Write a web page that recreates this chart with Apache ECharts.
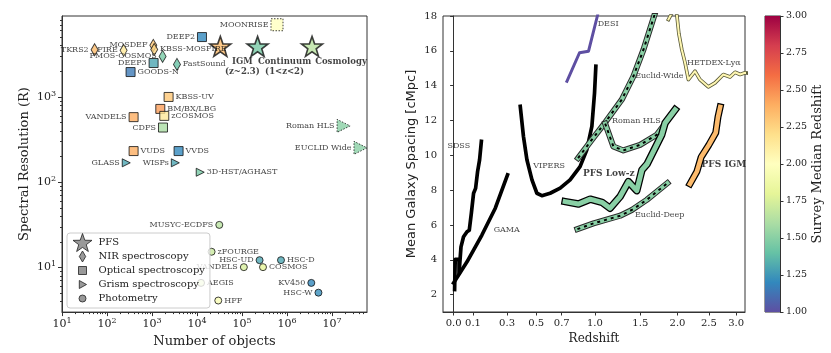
<!DOCTYPE html>
<html><head><meta charset="utf-8">
<script src="https://cdn.jsdelivr.net/npm/echarts@6/dist/echarts.min.js"></script>
<style>html,body{margin:0;padding:0;background:#fff}#c{width:831px;height:353px}</style>
</head><body><div id="c"></div>
<script>
// ---------------- Left panel: survey spectral resolution vs number of objects ----------------
const pfsNames = ['IGM', 'Continuum', 'Cosmology'];
const pfsLabels = ['IGM\n(z~2.3)', 'Continuum\n(1<z<2)', 'Cosmology'];
const pfsN = [33000, 222000, 3600000];
const pfsR = [3920, 3920, 3920];
const pfsZ = [2.35, 1.45, 1.65];

const nirNames = ['TKRS2', 'FIRE', 'MOSDEF', 'KBSS-MOSFIRE', 'FMOS-COSMOS', 'FastSound'];
const nirN = [53, 234, 1070, 1120, 1720, 3590];
const nirR = [3580, 3520, 4030, 3610, 2990, 2410];
const nirZ = [2.35, 2.15, 2.3, 2.25, 1.45, 1.4];

const optNames = ['GOODS-N', 'DEEP3', 'DEEP2', 'MOONRISE', 'KBSS-UV', 'BM/BX/LBG', 'zCOSMOS', 'VANDELS', 'CDFS', 'VUDS', 'VVDS'];
const optN = [334, 1086, 12900, 600000, 2340, 1530, 1875, 390, 1755, 390, 3900];
const optR = [1960, 2500, 5040, 7030, 1000, 724, 600, 580, 438, 232, 232];
const optZ = [1.15, 1.3, 1.2, 2.0, 2.3, 2.45, 2.15, 2.4, 1.6, 2.4, 1.2];

const grismNames = ['GLASS', 'WISPs', '3D-HST/AGHAST', 'Roman HLS', 'EUCLID Wide'];
const grismN = [268, 3300, 11800, 18100000, 43000000];
const grismR = [169, 169, 131, 458, 253];
const grismZ = [1.3, 1.3, 1.45, 1.5, 1.5];

const photNames = ['MUSYC-ECDFS', 'zFOURGE', 'HSC-UD', 'HSC-D', 'VANDELS', 'COSMOS', 'AEGIS', 'KV450', 'HSC-W', 'HFF'];
const photN = [31300, 21100, 246000, 736000, 110000, 293000, 12300, 3470000, 5000000, 29700];
const photR = [31.6, 15.3, 12.2, 12.2, 10.1, 10.1, 6.6, 6.6, 5.07, 4.1];
const photZ = [1.65, 1.7, 1.3, 1.3, 1.75, 1.8, 1.75, 1.2, 1.22, 1.95];

const legendNames = ['PFS', 'NIR spectroscopy', 'Optical spectroscopy', 'Grism spectroscopy', 'Photometry'];
const leftXTicks = [10, 100, 1000, 10000, 100000, 1000000, 10000000];
const leftYTicks = [10, 100, 1000];

// ---------------- Right panel: mean galaxy spacing vs redshift ----------------
const sdssZ = [0.005, 0.008, 0.027, 0.027, 0.037, 0.05, 0.068, 0.080, 0.091, 0.103, 0.114, 0.125, 0.136, 0.146];
const sdssD = [2.29, 4.02, 4.02, 3.21, 4.74, 5.32, 5.61, 5.70, 6.67, 7.82, 8.1, 9.07, 9.74, 10.8];
const gamaZ = [0.0, 0.068, 0.149, 0.227, 0.303];
const gamaD = [2.67, 3.88, 5.42, 6.96, 8.88];
const vipersZ = [0.387, 0.409, 0.433, 0.469, 0.505, 0.542, 0.606, 0.687, 0.771, 0.860, 0.923, 0.971, 0.997, 1.010];
const vipersD = [12.81, 11.08, 9.74, 8.59, 7.82, 7.68, 7.82, 8.11, 8.59, 9.35, 10.32, 11.66, 13.58, 15.12];
const desiZ = [0.744, 0.855, 0.939, 1.025, 1.07];
const desiD = [14.25, 15.89, 15.98, 18.0, 19.2];
const euclidWideZ = [0.842, 0.96, 1.087, 1.283, 1.417, 1.54, 1.68, 1.76];
const euclidWideD = [9.84, 10.81, 11.76, 13.2, 14.54, 16.08, 18.06, 19.2];
const romanZ = [1.104, 1.19, 1.30, 1.497, 1.71, 1.846];
const romanD = [11.82, 10.51, 10.28, 10.6, 11.18, 11.95];
const euclidDeepZ = [0.836, 0.987, 1.264, 1.398, 1.58, 1.855];
const euclidDeepD = [5.76, 6.09, 6.53, 6.86, 7.44, 8.4];
const pfsLowZ = [0.729, 0.846, 0.955, 1.071, 1.155, 1.264, 1.358, 1.457, 1.52, 1.585, 1.777, 1.823, 1.965];
const pfsLowD = [7.34, 7.2, 7.48, 7.3, 6.96, 7.63, 8.49, 7.97, 9.16, 9.5, 11.18, 11.86, 12.62];
const pfsIgmZ = [2.19, 2.3, 2.37, 2.5, 2.62, 2.66, 2.70];
const pfsIgmD = [8.36, 9.07, 9.9, 10.6, 11.3, 12.2, 12.78];
const hetdexZ = [1.87, 1.95, 1.99, 2.02, 2.064, 2.114, 2.165, 2.27, 2.35, 2.49, 2.607, 2.757, 2.883, 2.98, 3.08, 3.18, 3.3];
const hetdexD = [17.8, 18.4, 18.1, 17.0, 16.08, 15.31, 14.35, 14.83, 14.35, 13.93, 14.16, 14.64, 14.5, 14.77, 14.64, 14.74, 14.7];

const annNames = ['SDSS', 'VIPERS', 'GAMA', 'DESI', 'Euclid-Wide', 'HETDEX-Lyα', 'Roman HLS', 'PFS Low-z', 'PFS IGM', 'Euclid-Deep'];
const annZ = [0.026, 0.598, 0.298, 1.135, 1.745, 2.586, 1.451, 1.142, 2.768, 1.75];
const annD = [10.56, 9.41, 5.71, 17.52, 14.54, 15.31, 11.95, 8.93, 9.45, 6.57];

const rightXTicks = [0.0, 0.1, 0.3, 0.5, 0.7, 1.0, 1.5, 2.0, 2.5, 3.0];
const rightYTicks = [2, 4, 6, 8, 10, 12, 14, 16, 18];
const cbarMin = 1, cbarMax = 3, cbarStep = 0.25;

// ---------------- styling helpers ----------------
const SERIF = 'DejaVu Serif';
const spectral = ['#5e4fa2', '#3288bd', '#66c2a5', '#abdda4', '#e6f598', '#ffffbf', '#fee08b', '#fdae61', '#f46d43', '#d53e4f', '#9e0142'];
function hex2rgb(h) { return [1, 3, 5].map(i => parseInt(h.substr(i, 2), 16)); }
function cmap(z) {
  let t = Math.min(1, Math.max(0, (z - cbarMin) / (cbarMax - cbarMin))) * 10;
  let i = Math.min(9, Math.floor(t)), f = t - i;
  const a = hex2rgb(spectral[i]), b = hex2rgb(spectral[i + 1]);
  const c = a.map((v, k) => Math.round(v + (b[k] - v) * f));
  return 'rgb(' + c.join(',') + ')';
}
const labelLeft = new Set(['TKRS2', 'FIRE', 'MOSDEF', 'FMOS-COSMOS', 'DEEP3', 'DEEP2', 'MOONRISE', 'VANDELS', 'CDFS',
  'GLASS', 'WISPs', 'Roman HLS', 'EUCLID Wide', 'MUSYC-ECDFS', 'HSC-UD', 'KV450', 'HSC-W']);
const planned = new Set(['MOONRISE', 'Roman HLS', 'EUCLID Wide']);
const boldAnn = new Set(['PFS Low-z', 'PFS IGM']);
const pfsLabelDx = [22, 27, 29];

function pts(names, N, R, Z, baseSize, bigSize) {
  return names.map((n, i) => ({
    name: n, value: [N[i], R[i]],
    symbolSize: planned.has(n) ? bigSize : baseSize,
    itemStyle: { color: cmap(Z[i]), borderType: planned.has(n) ? [1.5, 1.5] : 'solid' },
    label: { position: labelLeft.has(n) ? 'left' : 'right' }
  }));
}
const ptLabel = { show: true, formatter: '{b}', fontFamily: SERIF, fontSize: 8, color: '#111', distance: 2 };
const markerBase = { color: '#808080', borderColor: '#111', borderWidth: 1 };
const STAR = 'path://M0,-10 L2.35,-3.24 L9.51,-3.09 L3.8,1.24 L5.88,8.09 L0,4 L-5.88,8.09 L-3.8,1.24 L-9.51,-3.09 L-2.35,-3.24 Z';
// legend icons: framed in a 22x18 box so the small markers keep their size next to the big star
const FRAME = 'M-11,-9 M11,9 ';
const legendIcons = [
  'path://M0,-9 L2.1,-2.9 L8.6,-2.8 L3.4,1.1 L5.3,7.3 L0,3.6 L-5.3,7.3 L-3.4,1.1 L-8.6,-2.8 L-2.1,-2.9 Z',
  'path://' + FRAME + 'M0,-5.5 L3.2,0 L0,5.5 L-3.2,0 Z',
  'path://' + FRAME + 'M-4,-4 L4,-4 L4,4 L-4,4 Z',
  'path://' + FRAME + 'M-3.2,-4 L4,0 L-3.2,4 Z',
  'path://' + FRAME + 'M3.5,0 A3.5,3.5 0 1 1 -3.5,0 A3.5,3.5 0 1 1 3.5,0 Z'
];

function lz(zs, ds) { return zs.map((z, i) => [Math.log(1 + z), ds[i]]); }
function line(data, color, width, extra) {
  return Object.assign({
    type: 'line', xAxisIndex: 1, yAxisIndex: 1, data: data, symbol: 'none', silent: true, clip: true,
    lineStyle: { color: color, width: width, cap: 'square', join: 'round' }
  }, extra || {});
}
function dashedLine(data) {
  return [
    line(data, '#2b2b2b', 6),
    line(data, cmap(1.5), 4),
    line(data, '#000', 2, { lineStyle: { color: '#000', width: 2, type: [3, 4], cap: 'butt' } })
  ];
}
function outlined(data, color, w, oc, ow) {
  return [line(data, oc || '#000', ow || (w + 2.5)), line(data, color, w)];
}

const supRich = { b: { fontSize: 11, fontFamily: SERIF, color: '#222' }, s: { fontSize: 8, fontFamily: SERIF, color: '#222', padding: [0, 0, 7, 0] } };
function logFmt(v) { const e = Math.round(Math.log10(v)); return '{b|10}{s|' + e + '}'; }

const chart = echarts.init(document.getElementById('c'), null, { renderer: 'canvas' });
const gradStops = spectral.map((c, i) => ({ offset: i / 10, color: c }));

const option = {
  backgroundColor: '#fff',
  animation: false,
  grid: [
    { left: 62, top: 16, width: 305, height: 297, show: true, borderColor: '#333', borderWidth: 1, backgroundColor: 'transparent' },
    { left: 443, top: 16, width: 302, height: 296, show: true, borderColor: '#333', borderWidth: 1, backgroundColor: 'transparent' },
    { left: 765, top: 16, width: 15, height: 296, show: true, borderColor: '#333', borderWidth: 1, backgroundColor: 'transparent' }
  ],
  xAxis: [
    { type: 'log', logBase: 10, gridIndex: 0, min: 10, max: 6e7,
      name: 'Number of objects', nameLocation: 'middle', nameGap: 22,
      nameTextStyle: { fontFamily: SERIF, fontSize: 13, color: '#222' },
      axisLine: { lineStyle: { color: '#333' } },
      axisTick: { length: 4, lineStyle: { color: '#333' }, customValues: leftXTicks },
      minorTick: { show: true, splitNumber: 9, length: 2, lineStyle: { color: '#333' } },
      axisLabel: { customValues: leftXTicks, formatter: logFmt, rich: supRich, margin: 5 },
      splitLine: { show: false }, minorSplitLine: { show: false } },
    { type: 'value', gridIndex: 1, min: -0.052, max: 1.430,
      name: 'Redshift', nameLocation: 'middle', nameGap: 19,
      nameTextStyle: { fontFamily: SERIF, fontSize: 12, color: '#222' },
      axisLine: { lineStyle: { color: '#333' } },
      axisTick: { length: 3.5, lineStyle: { color: '#333' }, customValues: rightXTicks.map(z => Math.log(1 + z)) },
      axisLabel: { customValues: rightXTicks.map(z => Math.log(1 + z)), formatter: v => (Math.exp(v) - 1).toFixed(1),
        fontFamily: SERIF, fontSize: 10, color: '#222', margin: 6 },
      splitLine: { show: false } },
    { type: 'category', gridIndex: 2, data: ['c'], show: false }
  ],
  yAxis: [
    { type: 'log', logBase: 10, gridIndex: 0, min: 3, max: 8900,
      name: 'Spectral Resolution (R)', nameLocation: 'middle', nameGap: 31, nameRotate: 90,
      nameTextStyle: { fontFamily: SERIF, fontSize: 13, color: '#222' },
      axisLine: { lineStyle: { color: '#333' } },
      axisTick: { length: 4, lineStyle: { color: '#333' }, customValues: leftYTicks },
      minorTick: { show: true, splitNumber: 9, length: 2, lineStyle: { color: '#333' } },
      axisLabel: { customValues: leftYTicks, formatter: logFmt, rich: supRich, margin: 6 },
      splitLine: { show: false }, minorSplitLine: { show: false } },
    { type: 'value', gridIndex: 1, min: 1, max: 18,
      name: 'Mean Galaxy Spacing [cMpc]', nameLocation: 'middle', nameGap: 25, nameRotate: 90,
      nameTextStyle: { fontFamily: 'DejaVu Sans', fontSize: 13, color: '#222' },
      axisLine: { lineStyle: { color: '#333' } },
      axisTick: { length: 3.5, lineStyle: { color: '#333' }, customValues: rightYTicks },
      axisLabel: { customValues: rightYTicks, fontFamily: SERIF, fontSize: 10, color: '#222', margin: 6 },
      splitLine: { show: false } },
    { type: 'value', gridIndex: 2, min: cbarMin, max: cbarMax, interval: cbarStep, position: 'right',
      name: 'Survey Median Redshift', nameLocation: 'middle', nameGap: 28, nameRotate: 90,
      nameTextStyle: { fontFamily: SERIF, fontSize: 13, color: '#222' },
      axisLine: { show: true, lineStyle: { color: '#333' } },
      axisTick: { show: true, length: 3.5, lineStyle: { color: '#333' } },
      axisLabel: { formatter: v => v.toFixed(2), fontFamily: SERIF, fontSize: 9.5, color: '#222', margin: 6 },
      splitLine: { show: false } }
  ],
  legend: {
    data: legendNames.map((n, i) => ({ name: n, icon: legendIcons[i],
      itemStyle: { color: '#7f7f7f', borderColor: '#222', borderWidth: 1 } })),
    orient: 'vertical', left: 67, top: 233, itemWidth: 22, itemHeight: 18, itemGap: -5, symbolKeepAspect: true,
    backgroundColor: 'rgba(255,255,255,0.8)', borderColor: '#ccc', borderWidth: 1, borderRadius: 3,
    padding: [0, 5, 0, 4], textStyle: { fontFamily: SERIF, fontSize: 10, color: '#222' }, z: 20
  },
  series: [
    // left panel
    { name: 'Photometry', type: 'scatter', xAxisIndex: 0, yAxisIndex: 0, symbol: 'circle',
      itemStyle: markerBase, label: ptLabel, data: pts(photNames, photN, photR, photZ, 7, 7) },
    { name: 'Grism spectroscopy', type: 'scatter', xAxisIndex: 0, yAxisIndex: 0, symbol: 'triangle', symbolRotate: -90,
      itemStyle: markerBase, label: ptLabel, data: pts(grismNames, grismN, grismR, grismZ, 8, 13) },
    { name: 'Optical spectroscopy', type: 'scatter', xAxisIndex: 0, yAxisIndex: 0, symbol: 'rect',
      itemStyle: markerBase, label: ptLabel, data: pts(optNames, optN, optR, optZ, 9, 12) },
    { name: 'NIR spectroscopy', type: 'scatter', xAxisIndex: 0, yAxisIndex: 0, symbol: 'diamond',
      itemStyle: markerBase, label: ptLabel, data: pts(nirNames, nirN, nirR, nirZ, [7, 12], [7, 12]) },
    { name: 'PFS', type: 'scatter', xAxisIndex: 0, yAxisIndex: 0, symbol: STAR, symbolKeepAspect: true, symbolSize: 21,
      itemStyle: { color: '#808080', borderColor: '#111', borderWidth: 1.6 },
      label: { show: true, position: 'bottom', distance: 0, align: 'center', fontFamily: SERIF,
        fontSize: 8.5, fontWeight: 'bold', lineHeight: 10, color: '#111', formatter: p => pfsLabels[p.dataIndex] },
      data: pfsNames.map((n, i) => ({ name: n, value: [pfsN[i], pfsR[i]], itemStyle: { color: cmap(pfsZ[i]) },
        label: { offset: [pfsLabelDx[i], 0] } })) },
    // right panel
    line(lz(sdssZ, sdssD), '#000', 3.7),
    line(lz(gamaZ, gamaD), '#000', 3.7),
    line(lz(vipersZ, vipersD), '#000', 3.7),
    line(lz(desiZ, desiD), cmap(1.0), 3),
    ...outlined(lz(hetdexZ, hetdexD), cmap(2.05), 2, '#5a5a3a', 3.6),
    ...dashedLine(lz(euclidWideZ, euclidWideD)),
    ...dashedLine(lz(romanZ, romanD)),
    ...dashedLine(lz(euclidDeepZ, euclidDeepD)),
    ...outlined(lz(pfsLowZ, pfsLowD), cmap(1.5), 5),
    ...outlined(lz(pfsIgmZ, pfsIgmD), cmap(2.35), 4.5),
    { type: 'scatter', xAxisIndex: 1, yAxisIndex: 1, symbolSize: 1, silent: true,
      itemStyle: { color: 'transparent' },
      label: { show: true, position: 'inside', formatter: '{b}', fontFamily: SERIF, fontSize: 8, color: '#111' },
      data: annNames.map((n, i) => ({ name: n, value: [Math.log(1 + annZ[i]), annD[i]],
        label: boldAnn.has(n) ? { fontWeight: 'bold', fontSize: 9 } : {} })) },
    // colorbar
    { type: 'bar', xAxisIndex: 2, yAxisIndex: 2, stack: 'cb', barWidth: '100%', silent: true,
      itemStyle: { color: 'transparent' }, data: [cbarMin] },
    { type: 'bar', xAxisIndex: 2, yAxisIndex: 2, stack: 'cb', barWidth: '100%', silent: true,
      itemStyle: { color: new echarts.graphic.LinearGradient(0, 1, 0, 0, gradStops) }, data: [cbarMax - cbarMin] }
  ]
};
chart.setOption(option);
</script>
</body></html>
